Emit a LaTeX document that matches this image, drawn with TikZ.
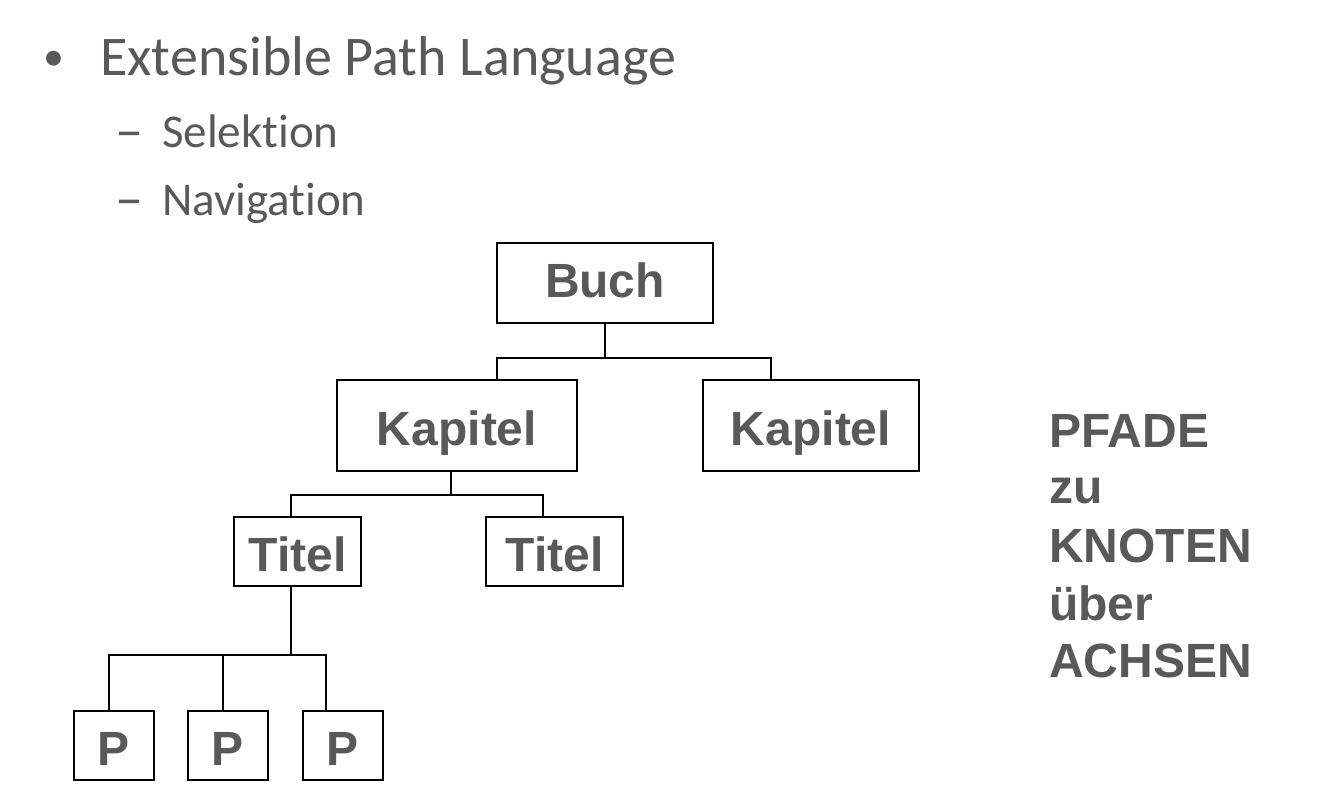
\documentclass[tikz,border=0pt]{standalone}
\usepackage{fontspec}
\setmainfont{Carlito}[Ligatures={NoCommon}]
\newfontfamily\arialfont{Liberation Sans}
\definecolor{txtgray}{HTML}{595959}
\tikzset{
  treebox/.style={draw=black, line width=2.6pt, inner sep=0pt, text=txtgray,
    font=\arialfont\bfseries\fontsize{48}{48}\selectfont,
    text height=40pt, text depth=0pt},
  conn/.style={draw=black, line width=2.2pt},
  bigtxt/.style={anchor=base west, inner sep=0pt, text=txtgray, font=\fontsize{56}{56}\selectfont},
  subtxt/.style={anchor=base west, inner sep=0pt, text=txtgray, font=\fontsize{47}{47}\selectfont},
  sidetxt/.style={anchor=base west, inner sep=0pt, text=txtgray, font=\arialfont\bfseries\fontsize{48}{48}\selectfont}
}
\begin{document}
\begin{tikzpicture}[x=1pt,y=-1pt]
\useasboundingbox (0,0) rectangle (1329,796);
% bullet list
\node[bigtxt, font=\fontsize{42}{42}\selectfont] (bul) at (43,70) {•};
\node[bigtxt] (l1) at (100,75) {Extensible Path Language};
\node[subtxt, font=\fontsize{56}{56}\selectfont] (d1) at (115,149) {–};
\node[subtxt] (l2) at (162,147) {Selektion};
\node[subtxt, font=\fontsize{56}{56}\selectfont] (d2) at (115,217) {–};
\node[subtxt] (l3) at (162,215) {Navigation};
% tree
\node[treebox, minimum width=216pt, minimum height=80pt, text height=28pt] (buch) at (605,283) {Buch};
\node[treebox, minimum width=240pt, minimum height=91pt] (kap1) at (457,425.5) {Kapitel};
\node[treebox, minimum width=216pt, minimum height=91pt] (kap2) at (811,425.5) {Kapitel};
\node[treebox, minimum width=127pt, minimum height=69pt] (tit1) at (297.5,551.5) {Titel};
\node[treebox, minimum width=137pt, minimum height=69pt] (tit2) at (554.5,551.5) {Titel};
\node[treebox, minimum width=80pt, minimum height=69pt] (p1) at (114,745.5) {P};
\node[treebox, minimum width=80pt, minimum height=69pt] (p2) at (228,745.5) {P};
\node[treebox, minimum width=80pt, minimum height=69pt] (p3) at (343,745.5) {P};
% connectors
\draw[conn] (buch.south) -- ++(0,34) coordinate (j1);
\draw[conn] (j1) -| ([xshift=40pt]kap1.north);
\draw[conn] (j1) -| ([xshift=-40pt]kap2.north);
\draw[conn] ([xshift=-6pt]kap1.south) -- ++(0,22.5) coordinate (j2);
\draw[conn] (j2) -| ([xshift=-6.5pt]tit1.north);
\draw[conn] (j2) -| ([xshift=-11.5pt]tit2.north);
\draw[conn] ([xshift=-6.5pt]tit1.south) -- ++(0,68) coordinate (j3);
\draw[conn] (j3) -| ([xshift=-5pt]p1.north);
\draw[conn] (j3) -| ([xshift=-5pt]p2.north);
\draw[conn] (j3) -| ([xshift=-17pt]p3.north);
% side text
\node[sidetxt] (s1) at (1049,447) {PFADE};
\node[sidetxt] (s2) at (1049,503) {zu};
\node[sidetxt] (s3) at (1049,562) {KNOTEN};
\node[sidetxt] (s4) at (1049,620) {über};
\node[sidetxt] (s5) at (1049,677) {ACHSEN};
\end{tikzpicture}
\end{document}
